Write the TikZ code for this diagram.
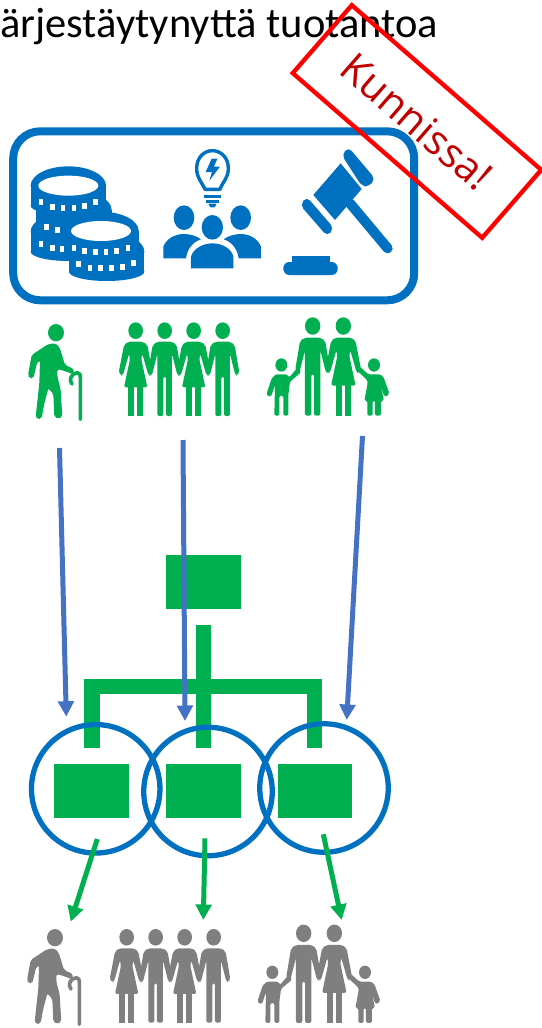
\documentclass[tikz,border=0pt]{standalone}
\usepackage{fontspec}
\setmainfont{Carlito}
\newfontfamily\stampfont{Open Sans}
\usepackage{xcolor}
\usetikzlibrary{arrows.meta}
\usetikzlibrary{calc}
\definecolor{peoplegreen}{HTML}{00B050}
\definecolor{peoplegray}{HTML}{7F7F7F}
\definecolor{ringblue}{HTML}{0070C0}
\definecolor{arrowblue}{HTML}{4472C4}
\definecolor{stampred}{HTML}{FF0000}
\definecolor{stamptext}{HTML}{C00000}
\tikzset{
  thinlimb/.style={line width=3.6pt,line cap=round,line join=round},
  orgbox/.style={fill=peoplegreen,inner sep=0pt,minimum width=74.7pt,minimum height=54.2pt},
  orgbar/.style={draw=peoplegreen,line width=15.3pt},
  ring/.style={draw=ringblue,circle,line width=5.3pt,inner sep=0pt,minimum size=128.5pt},
  inflow/.style={draw=arrowblue,line width=5pt,-{Triangle[length=15.5pt,width=15.5pt]}},
  outflow/.style={draw=peoplegreen,line width=5pt,-{Triangle[length=15.5pt,width=15.5pt]}},
  pics/woman/.style={code={
    \fill (0,0) ellipse (22 and 25);
    \fill[rounded corners=2pt] (-22,33) -- (-35,43) -- (-51,126) -- (-44,135) -- (-38,133) -- (-20,70) -- (-17,85) -- (-35,170) -- (35,170) -- (17,85) -- (20,70) -- (38,133) -- (44,135) -- (51,126) -- (35,43) -- (22,33) -- cycle;
    \fill (-22,168) rectangle (-5,256);
    \fill (5,168) rectangle (23,256);
  }},
  pics/man/.style={code={
    \fill (0,0) ellipse (22 and 25);
    \fill[rounded corners=2pt] (-22,33) -- (-36,43) -- (-50,126) -- (-44,135) -- (-38,133) -- (-22,70) -- (-22,256) -- (-4,256) -- (-4,138) -- (4,138) -- (4,256) -- (22,256) -- (22,70) -- (38,133) -- (44,135) -- (50,126) -- (36,43) -- (22,33) -- cycle;
  }},
  pics/oldman/.style={code={
    \begin{scope}[scale=1/3]
    \fill (168,68) ellipse (24 and 26);
    \fill[rounded corners=2pt] (168,100) -- (180,115) -- (195,165) -- (222,177) -- (220,193) -- (185,180) -- (172,178) -- (172,200) -- (182,238) -- (187,320) -- (175,327) -- (163,320) -- (160,252) -- (145,235) -- (132,285) -- (125,325) -- (112,328) -- (107,320) -- (118,220) -- (120,152) -- (112,155) -- (100,205) -- (88,205) -- (84,195) -- (95,135) -- (145,102) -- cycle;
    \draw[thinlimb] (216,222) .. controls (206,212) and (212,190) .. (232,188) .. controls (240,188) and (241,195) .. (241,205) -- (241,328);
    \end{scope}
  }},
  pics/crowd/.style={code={
    \begin{scope}[scale=1/3]
    \pic[transform shape] at (407,62) {woman};
    \pic[transform shape] at (494,62) {man};
    \pic[transform shape] at (581,62) {woman};
    \pic[transform shape] at (668,62) {man};
    \end{scope}
  }},
  pics/family/.style={code={
    \begin{scope}[scale=1/3]
    \pic[transform shape,scale=1.05] at (938,48) {man};
    \pic[transform shape,scale=1.05] at (1030,48) {woman};
    % boy
    \fill (844,165) ellipse (18 and 20);
    \fill[rounded corners=1.5pt] (827,193) -- (862,193) -- (867,203) -- (895,170) -- (903,187) -- (870,215) -- (865,255) -- (865,317) -- (850,317) -- (850,257) -- (838,257) -- (838,317) -- (823,317) -- (825,225) -- (813,260) -- (802,258) -- (800,250) -- (815,205) -- cycle;
    % girl
    \fill (1122,165) ellipse (18 and 20);
    \fill[rounded corners=1.5pt] (1105,193) -- (1140,193) -- (1150,200) -- (1168,250) -- (1160,260) -- (1152,258) -- (1142,225) -- (1152,272) -- (1143,272) -- (1143,317) -- (1125,317) -- (1125,272) -- (1118,272) -- (1118,317) -- (1102,317) -- (1102,272) -- (1093,272) -- (1102,225) -- (1103,212) -- (1072,182) -- (1080,170) -- cycle;
    \end{scope}
  }}
}
\begin{document}
\begin{tikzpicture}[x=1pt,y=-1pt]
\useasboundingbox (0,0) rectangle (541,1028);
\node (title) [anchor=base west,inner sep=0pt,font=\fontsize{42.5}{46}\selectfont] at (0,37) {ärjestäytynyttä tuotantoa};
\node (fundbox) [draw=ringblue,line width=8pt,rounded corners=27pt,inner sep=0pt,minimum width=401pt,minimum height=169pt] at (213.7,215.8) {};
%% coins
\begin{scope}[shift={(0,120)},scale=1/3,ringblue]
\foreach \cx/\cy in {205/197, 222/270, 205/335, 303/333, 320/395} {
    \fill (\cx,\cy) ellipse (113 and 58);
    \fill (\cx,\cy+60) ellipse (113 and 28);
    \fill (\cx-113,\cy) rectangle (\cx+113,\cy+60);
}
\foreach \cx/\cy in {205/197, 303/333}
    \fill[white] (\cx,\cy) ellipse (90 and 30);
\foreach \tx/\ty in {123/247, 157/260, 189/263, 222/263, 254/258, 287/247, 140/320, 172/331, 123/373, 157/383, 186/387, 222/385, 254/393, 286/397, 318/397, 350/393, 384/383, 235/432, 270/443, 302/445, 334/445, 367/440, 400/428}
    \fill[white] (\tx-7,\ty-9) rectangle (\tx+7,\ty+9);
%% lightbulb
\draw[line width=3.4pt,line join=round] (615,208) .. controls (605,185) and (590,175) .. (590,145) .. controls (590,110) and (615,92) .. (637,92) .. controls (660,92) and (685,110) .. (685,145) .. controls (685,175) and (668,185) .. (660,208) -- cycle;
\fill (635,116) -- (652,116) -- (642,140) -- (660,140) -- (628,182) -- (636,156) -- (617,156) -- cycle;
\fill (613,224) rectangle (662,235);
\fill (619,240) rectangle (656,248);
\fill (625,251) -- (650,251) -- (644,262) -- (631,262) -- cycle;
%% team
\fill (637,322) ellipse (32 and 37);
\fill (552,293) ellipse (31 and 37);
\fill (722,293) ellipse (31 and 37);
\fill (573,445) -- (573,410) .. controls (580,385) and (610,370) .. (637,370) .. controls (665,370) and (695,385) .. (700,410) -- (700,445) -- cycle;
\fill (490,415) -- (490,380) .. controls (500,355) and (525,342) .. (552,342) .. controls (570,342) and (590,348) .. (603,358) .. controls (580,365) and (562,385) .. (558,415) -- cycle;
\fill (783,415) -- (783,380) .. controls (773,355) and (748,342) .. (722,342) .. controls (704,342) and (684,348) .. (671,358) .. controls (694,365) and (712,385) .. (716,415) -- cycle;
\end{scope}
%% gavel
\begin{scope}[shift={(270,0)},scale=1/3,ringblue]
\fill (212,490) -- (275,567) -- (195,660) -- (130,585) -- cycle;
\fill[rounded corners=5pt] (235,441) -- (316,537) -- (296,560) -- (275,558) -- (215,465) -- cycle;
\fill[rounded corners=5pt] (110,590) -- (192,685) -- (172,709) -- (90,615) -- cycle;
\draw[line width=10pt,line cap=round] (240,610) -- (353,745);
\fill (65,768) rectangle (180,790);
\fill[rounded corners=6pt] (40,786) rectangle (203,825);
\end{scope}
%% people on top
\pic[color=peoplegreen] at (0,310) {oldman};
\pic[color=peoplegreen] at (0,310) {crowd};
\pic[color=peoplegreen] at (0,310) {family};
%% organisation
\node (orgtop) [orgbox] at (203.3,582.3) {};
\node (orgleft) [orgbox] at (91.7,791.2) {};
\node (orgmid) [orgbox] at (203.3,791.2) {};
\node (orgright) [orgbox] at (315,791.2) {};
\coordinate (hub) at (203.3,686.6);
\coordinate (trunktop) at (203.3,625);
\coordinate (trunkend) at (203.3,748.3);
\coordinate (legleft) at (92,748.3);
\coordinate (legright) at (314.8,748.3);
\draw[orgbar] (trunktop) -- (trunkend);
\draw[orgbar] (legleft) |- (hub) -| (legright);
\node (ringleft) [ring] at (95.7,788.8) {};
\node (ringmid) [ring] at (208,791.5) {};
\node (ringright) [ring] at (324,788) {};
%% arrows
\coordinate (inleft) at (59.5,448);
\coordinate (inmid) at (183,440);
\coordinate (inright) at (362.5,436);
\coordinate (tipleft) at (66.3,716.7);
\coordinate (tipmid) at (185,721);
\coordinate (tipright) at (346.7,720);
\draw[inflow] (inleft) -- (tipleft);
\draw[inflow] (inmid) -- (tipmid);
\draw[inflow] (inright) -- (tipright);
\coordinate (outleft) at (97.3,839);
\coordinate (outmid) at (205,838.3);
\coordinate (outright) at (323.3,834.3);
\coordinate (endleft) at (70.7,921.7);
\coordinate (endmid) at (203.3,920);
\coordinate (endright) at (341.7,920);
\draw[outflow] (outleft) -- (endleft);
\draw[outflow] (outmid) -- (endmid);
\draw[outflow] (outright) -- (endright);
%% people below
\pic[color=peoplegray] at (-1,915) {oldman};
\pic[color=peoplegray] at (-9,916.6) {crowd};
\pic[color=peoplegray] at (-9,917.3) {family};
%% stamp
\node (stamp) [draw=stampred,line width=4.3pt,rotate=-41,inner sep=0pt,minimum width=251pt,minimum height=90pt,text=stamptext,font=\stampfont\fontsize{41}{45}\selectfont] at (417,121.5) {Kunnissa!};
\end{tikzpicture}
\end{document}
